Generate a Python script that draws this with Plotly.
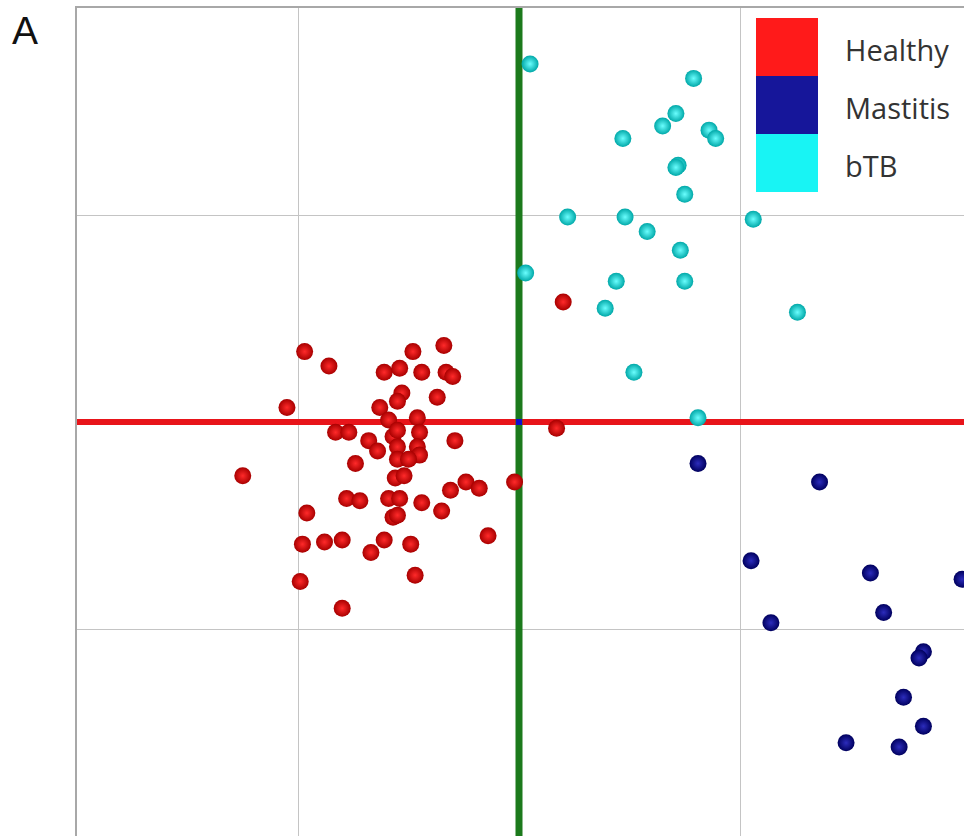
import plotly.graph_objects as go

# Score coordinates (component 1 vs component 2) per group
healthy_x = [-0.97, -0.86, -0.48, -0.34, -0.61, -0.54, -0.44, -0.33, -0.30, -0.53,
             -0.55, -0.37, -1.05, -0.63, -0.59, -0.46, -0.83, -0.77, -0.68, -0.57,
             -0.55, -0.45, -0.64, -0.55, -0.46, -0.29, -0.45, -0.55, -0.50, -0.74,
             -1.25, -0.56, -0.52, -0.24, -0.18, -0.31, -0.02, -0.78, -0.72, -0.59,
             -0.54, -0.44, -0.35, -0.57, -0.55, -0.96, -0.14, -0.98, -0.88, -0.80,
             -0.61, -0.49, -0.67, -0.99, -0.47, -0.80, 0.20, 0.17]
healthy_y = [0.34, 0.27, 0.34, 0.37, 0.24, 0.26, 0.24, 0.24, 0.22, 0.14,
             0.10, 0.12, 0.07, 0.07, 0.01, 0.02, -0.05, -0.05, -0.09, -0.07,
             -0.04, -0.05, -0.14, -0.12, -0.12, -0.09, -0.16, -0.18, -0.18, -0.20,
             -0.26, -0.27, -0.26, -0.29, -0.32, -0.33, -0.29, -0.37, -0.38, -0.37,
             -0.37, -0.39, -0.43, -0.46, -0.45, -0.44, -0.55, -0.59, -0.58, -0.57,
             -0.57, -0.59, -0.63, -0.77, -0.74, -0.90, 0.58, -0.03]

mastitis_x = [0.81, 1.36, 1.05, 1.59, 2.005, 1.65, 1.14, 1.83, 1.81, 1.74, 1.83, 1.48, 1.72]
mastitis_y = [-0.20, -0.29, -0.67, -0.73, -0.76, -0.92, -0.97, -1.11, -1.14, -1.33, -1.47, -1.55, -1.57]

btb_x = [0.05, 0.79, 0.71, 0.65, 0.47, 0.86, 0.89, 0.72, 0.71, 0.75, 0.22,
         0.48, 1.06, 0.58, 0.73, 0.03, 0.44, 0.75, 0.39, 1.26, 0.52, 0.81]
btb_y = [1.73, 1.66, 1.49, 1.43, 1.37, 1.41, 1.37, 1.24, 1.23, 1.10, 0.99,
         0.99, 0.98, 0.92, 0.83, 0.72, 0.68, 0.68, 0.55, 0.53, 0.24, 0.02]

groups = ["Healthy", "Mastitis", "bTB"]
group_fill = ["#ff1a1a", "#16169a", "#18f4f4"]

x_range = [-2.0, 2.0136]
y_range = [-2.0, 2.0]
grid_vals = [-1, 0, 1]

fig = go.Figure()

# Reference axes through the origin
fig.add_trace(go.Scatter(x=x_range, y=[0, 0], mode="lines",
                         line=dict(color="#e8141a", width=6), hoverinfo="skip"))
fig.add_trace(go.Scatter(x=[0, 0], y=y_range, mode="lines",
                         line=dict(color="#1c7a1c", width=7), hoverinfo="skip"))
fig.add_trace(go.Scatter(x=[0], y=[0], mode="markers",
                         marker=dict(symbol="square", size=6, color="#1010d0"),
                         hoverinfo="skip"))


def sphere(center, rim):
    # radial gradient: marker colour at the rim, gradient colour at the centre
    return dict(size=17, color=rim, line=dict(width=0),
                gradient=dict(type="radial", color=center))


fig.add_trace(go.Scatter(x=btb_x, y=btb_y, mode="markers", name="bTB",
                         marker=sphere("#6afefe", "#00a8a8")))
fig.add_trace(go.Scatter(x=mastitis_x, y=mastitis_y, mode="markers", name="Mastitis",
                         marker=sphere("#2c2cbc", "#00005e")))
fig.add_trace(go.Scatter(x=healthy_x, y=healthy_y, mode="markers", name="Healthy",
                         marker=sphere("#ff2a2a", "#a80000")))

# Stacked colour-block key
block_top = 0.9879
block_step = 0.0700
shapes = []
annotations = []
for i, (name, col) in enumerate(zip(groups, group_fill)):
    y1 = block_top - i * block_step
    y0 = y1 - block_step
    shapes.append(dict(type="rect", xref="paper", yref="paper",
                       x0=0.7655, x1=0.8354, y0=y0, y1=y1,
                       fillcolor=col, line=dict(width=0), layer="above"))
    annotations.append(dict(xref="paper", yref="paper", x=0.864, y=(y0 + y1) / 2 - 0.003,
                            text=name, showarrow=False, xanchor="left", yanchor="middle",
                            font=dict(family="Open Sans", size=29, color="#333333")))

annotations.append(dict(xref="paper", yref="paper", x=-0.0586, y=0.9734, text="A",
                        showarrow=False, xanchor="center", yanchor="middle",
                        font=dict(family="Liberation Sans", size=39, color="#111111")))

fig.update_layout(
    width=964, height=836, autosize=False,
    margin=dict(l=77, r=0, t=8, b=0),
    paper_bgcolor="white", plot_bgcolor="white",
    showlegend=False,
    shapes=shapes, annotations=annotations,
    xaxis=dict(range=x_range, tickmode="array", tickvals=grid_vals, showgrid=True,
               gridcolor="#c4c4c4", gridwidth=1, zeroline=False, showticklabels=False,
               ticks="", showline=True, side="top", linecolor="#a8a8a8", linewidth=2),
    yaxis=dict(range=y_range, tickmode="array", tickvals=grid_vals, showgrid=True,
               gridcolor="#c4c4c4", gridwidth=1, zeroline=False, showticklabels=False,
               ticks="", showline=True, linecolor="#a8a8a8", linewidth=2),
)

fig.write_html("out.html")
